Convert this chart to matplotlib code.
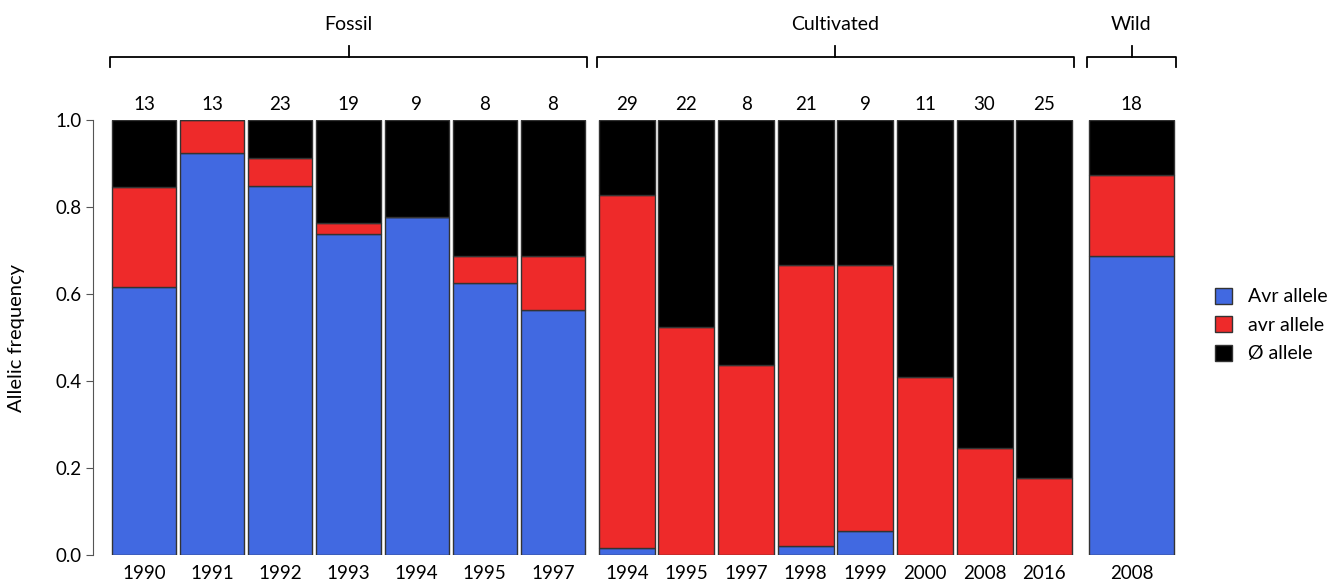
import numpy as np
import matplotlib.pyplot as plt
from matplotlib.patches import Patch

plt.rcParams['font.family'] = ['Lato', 'DejaVu Sans']

# data per group
fossil_years = ['1990', '1991', '1992', '1993', '1994', '1995', '1997']
fossil_n = [13, 13, 23, 19, 9, 8, 8]
fossil_Avr = [0.615, 0.923, 0.848, 0.737, 0.778, 0.625, 0.5625]
fossil_avr = [0.231, 0.077, 0.065, 0.026, 0.0, 0.0625, 0.125]

cult_years = ['1994', '1995', '1997', '1998', '1999', '2000', '2008', '2016']
cult_n = [29, 22, 8, 21, 9, 11, 30, 25]
cult_Avr = [0.017, 0.0, 0.0, 0.02, 0.055, 0.0, 0.0, 0.0]
cult_avr = [0.811, 0.523, 0.4375, 0.647, 0.612, 0.409, 0.247, 0.178]

wild_years = ['2008']
wild_n = [18]
wild_Avr = [0.687]
wild_avr = [0.186]

groups = ['Fossil', 'Cultivated', 'Wild']
blue = '#4169E1'
red = '#EE2A2A'
black = '#000000'

fig = plt.figure(figsize=(13.31, 5.87), dpi=100)
W, H = 1331, 587

# axes boxes in pixels: left, width
boxes = [(110, 477), (597, 477), (1087, 89)]
bottom_px, top_px = 555, 120

data = [(fossil_years, fossil_n, fossil_Avr, fossil_avr),
        (cult_years, cult_n, cult_Avr, cult_avr),
        (wild_years, wild_n, wild_Avr, wild_avr)]

fs = 13.5

for k, ((l, w), (yrs, n, A, a)) in enumerate(zip(boxes, data)):
    ax = fig.add_axes([l / W, (H - bottom_px) / H, w / W, (bottom_px - top_px) / H])
    x = np.arange(len(yrs))
    A = np.array(A)
    a = np.array(a)
    rest = 1 - A - a
    bw = 0.94 if k < 2 else 0.95
    ax.bar(x, A, bw, color=blue, edgecolor='#333333', linewidth=1)
    ax.bar(x, a, bw, bottom=A, color=red, edgecolor='#333333', linewidth=1)
    ax.bar(x, rest, bw, bottom=A + a, color=black, edgecolor='#333333', linewidth=1)
    ax.set_xlim(-0.5, len(yrs) - 0.5)
    ax.set_ylim(0, 1)
    ax.set_xticks(x)
    ax.set_xticklabels(yrs, fontsize=fs)
    ax.tick_params(axis='x', length=0, pad=7)
    for s in ['top', 'right', 'bottom']:
        ax.spines[s].set_visible(False)
    if k == 0:
        ax.spines['left'].set_position(('outward', 12))
        ax.spines['left'].set_color('#555555')
        ax.set_yticks([0, 0.2, 0.4, 0.6, 0.8, 1.0])
        ax.set_yticklabels(['0.0', '0.2', '0.4', '0.6', '0.8', '1.0'], fontsize=fs)
        ax.tick_params(axis='y', length=5, color='#555555')
        ax.set_ylabel('Allelic frequency', fontsize=14.5, labelpad=22)
    else:
        ax.spines['left'].set_visible(False)
        ax.set_yticks([])
    for xi, ni in zip(x, n):
        ax.text(xi, 1.015, str(ni), ha='center', va='bottom', fontsize=fs)

    # brace above group
    y0 = 1 - 57 / H
    yh = 1 - 67 / H
    ym = 1 - 46 / H
    x0 = l / W
    x1 = (l + w) / W
    xm = (x0 + x1) / 2
    fig.add_artist(plt.Line2D([x0, x0, x1, x1], [yh, y0, y0, yh], color='black', lw=1.3,
                              transform=fig.transFigure))
    fig.add_artist(plt.Line2D([xm, xm], [y0, ym], color='black', lw=1.3,
                              transform=fig.transFigure))
    fig.text(xm, 1 - 25 / H, groups[k], ha='center', va='center', fontsize=14)

handles = [Patch(facecolor=blue, edgecolor='#333333', label='Avr allele'),
           Patch(facecolor=red, edgecolor='#333333', label='avr allele'),
           Patch(facecolor=black, edgecolor='#333333', label='Ø allele')]
fig.legend(handles=handles, loc='center left', bbox_to_anchor=(1197 / W, 1 - 325 / H),
           frameon=False, fontsize=14, handlelength=0.9, handleheight=0.9,
           handletextpad=0.8, labelspacing=0.55)

fig.savefig('out.png', dpi=100)
